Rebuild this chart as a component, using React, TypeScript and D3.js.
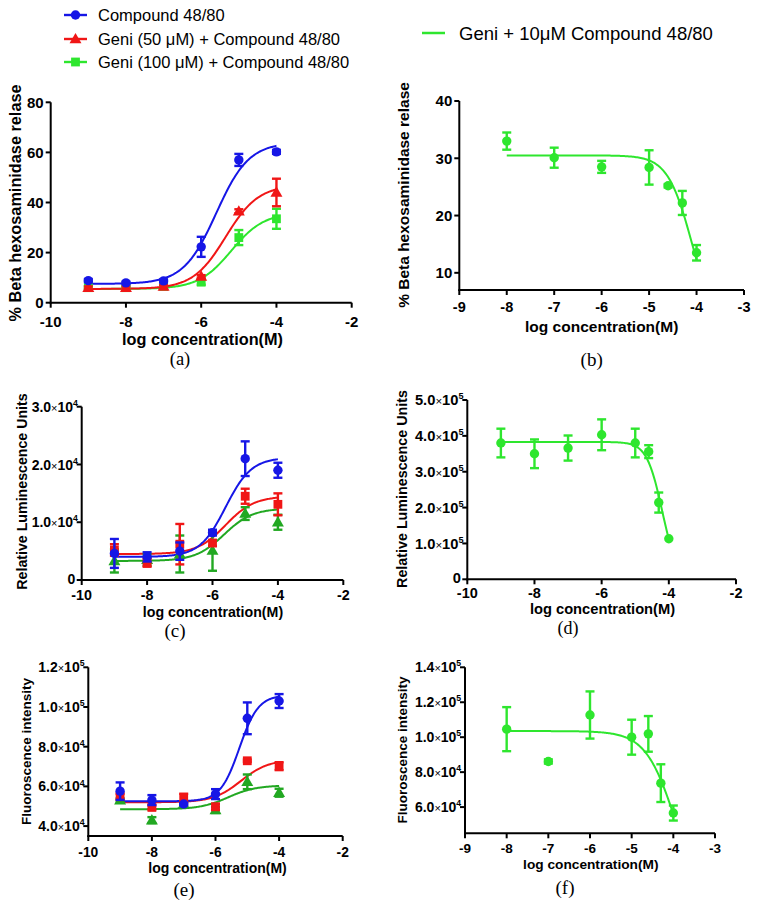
import React from "react";
import * as d3 from "d3";

const BLUE = "#1616e6";
const RED = "#f01616";
const GREEN = "#2ee62e";
const DKGREEN = "#22a822";

// ---------- Panel (a) ----------
const xA = [-9, -8, -7, -6, -5, -4];
const blueA = [8.8, 7.9, 8.7, 22.3, 57, 60.2];
const blueAErr = [0.6, 0.5, 0.6, 4, 2.4, 0.8];
const redA = [6, 6, 6.5, 10.5, 36.5, 44];
const redAErr = [0.5, 0.5, 0.5, 0.5, 0.8, 5.5];
const greenA = [6, 6, 6.5, 8.2, 26, 33.5];
const greenAErr = [0.5, 0.5, 0.5, 1, 3, 4];
const fitBlueA = [7.5, 64, -5.6, 1];
const fitRedA = [5.5, 47, -5.35, 1];
const fitGreenA = [5.5, 36, -5.2, 1];
const xTicksA = [-10, -8, -6, -4, -2];
const yTicksA = [0, 20, 40, 60, 80];

// ---------- Panel (b) ----------
const xB = [-8, -7, -6, -5, -4.6, -4.3, -4];
const greenB = [33, 30.1, 28.5, 28.4, 25.2, 22.2, 13.5];
const greenBErr = [1.5, 1.75, 1.05, 3, 0.3, 2.1, 1.35];
const fitGreenB = [0, 30.5, -4.1, -1.7];
const xTicksB = [-9, -8, -7, -6, -5, -4, -3];
const yTicksB = [10, 20, 30, 40];

// ---------- Panel (c) ----------
const xC = [-9, -8, -7, -6, -5, -4];
const blueC = [4600, 4000, 5000, 8200, 21000, 19000];
const blueCErr = [2500, 800, 1500, 500, 3000, 1300];
const redC = [5200, 3000, 6200, 6400, 14500, 13100];
const redCErr = [1000, 700, 3500, 500, 1300, 1900];
const greenC = [3300, 3500, 4500, 5100, 11500, 10000];
const greenCErr = [2000, 1000, 3200, 3500, 1100, 1300];
const fitBlueC = [4000, 21200, -5.6, 1.1];
const fitRedC = [4500, 14500, -5.6, 1];
const fitGreenC = [3300, 12400, -5.65, 1];
const xTicksC = [-10, -8, -6, -4, -2];
const yTicksC = [0, 10000, 20000, 30000];

// ---------- Panel (d) ----------
const xD = [-9, -8, -7, -6, -5, -4.6, -4.3, -4];
const greenD = [380000, 350000, 366000, 403000, 380000, 356000, 214000, 113000];
const greenDErr = [40000, 40000, 35000, 43000, 40000, 18000, 28000, 0];
const fitGreenD = [0, 383000, -4.2, -1.9];
const xTicksD = [-10, -8, -6, -4, -2];
const yTicksD = [0, 100000, 200000, 300000, 400000, 500000];

// ---------- Panel (e) ----------
const xE = [-9, -8, -7, -6, -5, -4];
const blueE = [57600, 53100, 51100, 56100, 94300, 103000];
const blueEErr = [4400, 2500, 600, 2500, 8000, 3500];
const redE = [54800, 49400, 54300, 49700, 72900, 70200];
const redEErr = [1500, 1000, 2000, 1500, 600, 2000];
const greenE = [53000, 43000, 51000, 48100, 62300, 56800];
const greenEErr = [1000, 1500, 1000, 1500, 3700, 2000];
const fitBlueE = [52500, 106000, -5.25, 1.46];
const fitRedE = [52000, 73500, -5.2, 1];
const fitGreenE = [48500, 60500, -5.6, 1];
const xTicksE = [-10, -8, -6, -4, -2];
const yTicksE = [40000, 60000, 80000, 100000, 120000];

// ---------- Panel (f) ----------
const xF = [-8, -7, -6, -5, -4.6, -4.3, -4];
const greenF = [104600, 86100, 112700, 100000, 101900, 73700, 56600];
const greenFErr = [12600, 1200, 13500, 10000, 10200, 10800, 4300];
const fitGreenF = [0, 103500, -3.94, -1.2];
const xTicksF = [-9, -8, -7, -6, -5, -4, -3];
const yTicksF = [60000, 80000, 100000, 120000, 140000];

const legendLabels = [
  "Compound 48/80",
  "Geni (50 \u03bcM) + Compound 48/80",
  "Geni (100 \u03bcM) + Compound 48/80",
];
const legendRight = "Geni + 10\u03bcM Compound 48/80";
const xTitle = "log concentration(M)";

const SANS = "'Liberation Sans', Arial, Helvetica, sans-serif";
const SERIF = "'Liberation Serif', 'Times New Roman', serif";

type Shape = "circle" | "square" | "triangle";
type Series = { x: number[]; y: number[]; err: number[]; fit: number[]; color: string; shape: Shape };

function fourPL(p: number[], x: number) {
  const [b, t, c, h] = p;
  return b + (t - b) / (1 + Math.pow(10, (c - x) * h));
}

function Marker({ cx, cy, shape, color }: { cx: number; cy: number; shape: Shape; color: string }) {
  if (shape === "circle") return <circle cx={cx} cy={cy} r={4.7} fill={color} />;
  if (shape === "square") return <rect x={cx - 4.4} y={cy - 4.4} width={8.8} height={8.8} fill={color} />;
  const p = d3.symbol().type(d3.symbolTriangle).size(62)() as string;
  return <path d={p} transform={`translate(${cx},${cy + 0.8})`} fill={color} />;
}

type Cfg = {
  xDomain: number[]; xRange: number[]; yDomain: number[]; yRange: number[];
  xTicks: number[]; yTicks: number[]; sci: boolean;
  tickFs: number; yTickFs: number; xLabelBase: number;
  title: string; titleFs: number; titleX: number; titleBase: number;
  yLabel: string; yLabelFs: number; yLabelX: number; yLabelY: number;
  tag: string; tagX: number; tagBase: number; tagFs: number;
  series: Series[];
};

function YTickLabel({ v, x, y, fs, sci }: { v: number; x: number; y: number; fs: number; sci: boolean }) {
  if (!sci || v === 0) {
    return (
      <text x={sci ? x - 6.5 : x - 7} y={y} dy={sci ? "0.26em" : "0.36em"} textAnchor="end" fontSize={fs} fontWeight="bold" fontFamily={SANS}>
        {String(v)}
      </text>
    );
  }
  const exp = Math.floor(Math.log10(v));
  const m = (v / Math.pow(10, exp)).toFixed(1);
  return (
    <text x={x - 3.8} y={y} dy="0.36em" textAnchor="end" fontSize={fs} fontWeight="bold" fontFamily={SANS}>
      {m}
      <tspan fontWeight="normal" fontSize={fs * 0.78}>{"\u00d7"}</tspan>
      10
      <tspan dy={-fs * 0.42} fontSize={fs * 0.62}>{String(exp)}</tspan>
    </text>
  );
}

function Panel({ c }: { c: Cfg }) {
  const x = d3.scaleLinear().domain(c.xDomain).range(c.xRange);
  const y = d3.scaleLinear().domain(c.yDomain).range(c.yRange);
  const x0 = c.xRange[0];
  const yb = c.yRange[0];
  const yt = c.yRange[1];
  const xr = c.xRange[1];
  const line = d3.line<number>().x((d) => x(d));
  return (
    <g>
      {c.series.map((s, i) => {
        const lo = d3.min(s.x) as number;
        const hi = d3.max(s.x) as number;
        const xs = d3.range(0, 161).map((k) => lo + ((hi - lo) * k) / 160);
        const path = line.y((d) => y(fourPL(s.fit, d)))(xs) as string;
        return <path key={"c" + i} d={path} fill="none" stroke={s.color} strokeWidth={2} />;
      })}
      {c.series.map((s, i) => (
        <g key={"p" + i}>
          {s.x.map((xv, j) => {
            const cx = x(xv);
            const cy = y(s.y[j]);
            const e = s.err[j];
            return (
              <g key={j}>
                {e > 0 && (
                  <g stroke={s.color} strokeWidth={2.4}>
                    <line x1={cx} x2={cx} y1={y(s.y[j] - e)} y2={y(s.y[j] + e)} />
                    <line x1={cx - 4.5} x2={cx + 4.5} y1={y(s.y[j] - e)} y2={y(s.y[j] - e)} />
                    <line x1={cx - 4.5} x2={cx + 4.5} y1={y(s.y[j] + e)} y2={y(s.y[j] + e)} />
                  </g>
                )}
                <Marker cx={cx} cy={cy} shape={s.shape} color={s.color} />
              </g>
            );
          })}
        </g>
      ))}
      <g stroke="#000" strokeWidth={2} fill="none">
        <line x1={x0} x2={x0} y1={yb + 1} y2={yt} />
        <line x1={x0 - 1} x2={xr} y1={yb} y2={yb} />
        {c.xTicks.map((t) => (
          <line key={"xt" + t} x1={x(t)} x2={x(t)} y1={yb} y2={yb + 5} />
        ))}
        {c.yTicks.map((t) => (
          <line key={"yt" + t} x1={x0 - 5} x2={x0} y1={y(t)} y2={y(t)} />
        ))}
      </g>
      {c.xTicks.map((t) => (
        <text key={"xl" + t} x={x(t)} y={c.xLabelBase} textAnchor="middle" fontSize={c.tickFs} fontWeight="bold" fontFamily={SANS}>
          {String(t)}
        </text>
      ))}
      {c.yTicks.map((t) => (
        <YTickLabel key={"yl" + t} v={t} x={x0} y={y(t)} fs={c.yTickFs} sci={c.sci} />
      ))}
      <text x={c.titleX} y={c.titleBase} textAnchor="middle" fontSize={c.titleFs} fontWeight="bold" fontFamily={SANS}>
        {c.title}
      </text>
      <text
        transform={`translate(${c.yLabelX},${c.yLabelY}) rotate(-90)`}
        textAnchor="middle"
        fontSize={c.yLabelFs}
        fontWeight="bold"
        fontFamily={SANS}
      >
        {c.yLabel}
      </text>
      <text x={c.tagX} y={c.tagBase} textAnchor="middle" fontSize={c.tagFs} fontFamily={SERIF}>
        {c.tag}
      </text>
    </g>
  );
}

const mk = (x: number[], y: number[], err: number[], fit: number[], color: string, shape: Shape): Series => ({
  x, y, err, fit, color, shape,
});

export default function App() {
  const panels: Cfg[] = [
    {
      xDomain: [-10, -2], xRange: [50.7, 351.7], yDomain: [0, 80], yRange: [302.7, 102.3],
      xTicks: xTicksA, yTicks: yTicksA, sci: false, tickFs: 15, yTickFs: 15, xLabelBase: 327,
      title: xTitle, titleFs: 16.3, titleX: 202.5, titleBase: 345,
      yLabel: "% Beta hexosaminidase relase", yLabelFs: 16.3, yLabelX: 20.5, yLabelY: 203,
      tag: "(a)", tagX: 180, tagBase: 365, tagFs: 18.5,
      series: [
        mk(xA, greenA, greenAErr, fitGreenA, GREEN, "square"),
        mk(xA, redA, redAErr, fitRedA, RED, "triangle"),
        mk(xA, blueA, blueAErr, fitBlueA, BLUE, "circle"),
      ],
    },
    {
      xDomain: [-9, -3], xRange: [459.3, 744], yDomain: [7, 40], yRange: [290, 101],
      xTicks: xTicksB, yTicks: yTicksB, sci: false, tickFs: 14.5, yTickFs: 15, xLabelBase: 312,
      title: xTitle, titleFs: 15.5, titleX: 601.7, titleBase: 332,
      yLabel: "% Beta hexosaminidase relase", yLabelFs: 15.5, yLabelX: 409, yLabelY: 195,
      tag: "(b)", tagX: 591.7, tagBase: 366, tagFs: 19,
      series: [mk(xB, greenB, greenBErr, fitGreenB, GREEN, "circle")],
    },
    {
      xDomain: [-10, -2], xRange: [81.7, 343.3], yDomain: [0, 30000], yRange: [580, 406.7],
      xTicks: xTicksC, yTicks: yTicksC, sci: true, tickFs: 14.3, yTickFs: 14, xLabelBase: 599.5,
      title: xTitle, titleFs: 14.2, titleX: 213, titleBase: 617,
      yLabel: "Relative Luminescence Units", yLabelFs: 14.2, yLabelX: 27, yLabelY: 491.5,
      tag: "(c)", tagX: 175, tagBase: 637, tagFs: 19,
      series: [
        mk(xC, greenC, greenCErr, fitGreenC, DKGREEN, "triangle"),
        mk(xC, redC, redCErr, fitRedC, RED, "square"),
        mk(xC, blueC, blueCErr, fitBlueC, BLUE, "circle"),
      ],
    },
    {
      xDomain: [-10, -2], xRange: [467.3, 736], yDomain: [0, 500000], yRange: [579.3, 400],
      xTicks: xTicksD, yTicks: yTicksD, sci: true, tickFs: 14.5, yTickFs: 14.7, xLabelBase: 597.5,
      title: xTitle, titleFs: 14.7, titleX: 602.5, titleBase: 613.8,
      yLabel: "Relative Luminescence Units", yLabelFs: 14.3, yLabelX: 407, yLabelY: 489,
      tag: "(d)", tagX: 568, tagBase: 633.5, tagFs: 18,
      series: [mk(xD, greenD, greenDErr, fitGreenD, GREEN, "circle")],
    },
    {
      xDomain: [-10, -2], xRange: [88.3, 342.7], yDomain: [35000, 120000], yRange: [836, 667.3],
      xTicks: xTicksE, yTicks: yTicksE, sci: true, tickFs: 13.8, yTickFs: 14, xLabelBase: 856.5,
      title: xTitle, titleFs: 14, titleX: 217.5, titleBase: 873,
      yLabel: "Fluoroscence intensity", yLabelFs: 13.5, yLabelX: 30.5, yLabelY: 751.5,
      tag: "(e)", tagX: 184, tagBase: 896, tagFs: 19,
      series: [
        mk(xE, greenE, greenEErr, fitGreenE, DKGREEN, "triangle"),
        mk(xE, redE, redEErr, fitRedE, RED, "square"),
        mk(xE, blueE, blueEErr, fitBlueE, BLUE, "circle"),
      ],
    },
    {
      xDomain: [-9, -3], xRange: [465, 715], yDomain: [45000, 140000], yRange: [833.3, 667.3],
      xTicks: xTicksF, yTicks: yTicksF, sci: true, tickFs: 13.5, yTickFs: 14, xLabelBase: 852.7,
      title: xTitle, titleFs: 13.7, titleX: 590.8, titleBase: 869,
      yLabel: "Fluoroscence intensity", yLabelFs: 13.5, yLabelX: 407, yLabelY: 750,
      tag: "(f)", tagX: 565, tagBase: 894, tagFs: 19,
      series: [mk(xF, greenF, greenFErr, fitGreenF, GREEN, "circle")],
    },
  ];
  return (
    <svg width={757} height={905} style={{ position: "absolute", left: 0, top: 0, background: "#fff" }}>
      <rect width={757} height={905} fill="#fff" />
      {panels.map((p, i) => (
        <Panel key={i} c={p} />
      ))}
      {legendLabels.map((lab, i) => {
        const ly = [15, 39, 62][i];
        const col = [BLUE, RED, GREEN][i];
        const shape: Shape = (["circle", "triangle", "square"] as Shape[])[i];
        return (
          <g key={lab}>
            <line x1={64} x2={87} y1={ly} y2={ly} stroke={col} strokeWidth={2.4} />
            <Marker cx={75.5} cy={ly} shape={shape} color={col} />
            <text x={98} y={ly} dy="0.36em" fontSize={16.5} fontFamily={SANS}>
              {lab}
            </text>
          </g>
        );
      })}
      <line x1={422} x2={445} y1={33} y2={33} stroke={GREEN} strokeWidth={2.5} />
      <text x={459} y={33} dy="0.36em" fontSize={18.5} fontFamily={SANS}>
        {legendRight}
      </text>
    </svg>
  );
}
